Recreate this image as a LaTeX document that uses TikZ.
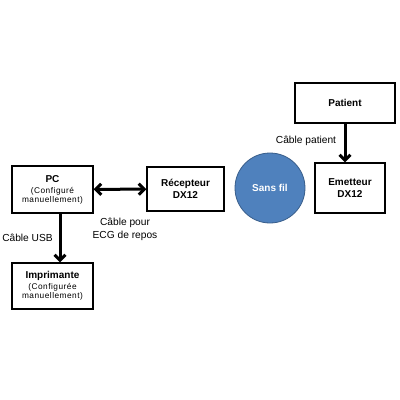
\documentclass[tikz,border=0pt]{standalone}
\usepackage{fontspec}
\setmainfont{Liberation Sans}
\usetikzlibrary{arrows.meta}
\newcommand{\subtxt}[1]{{\mdseries\fontsize{8.3}{11}\selectfont\addfontfeatures{LetterSpace=6}#1}}

\begin{document}
\begin{tikzpicture}[x=1pt,y=-1pt,
  box/.style={draw,line width=1.2pt,align=center,font=\bfseries\fontsize{10}{12}\selectfont},
  lbl/.style={align=center,font=\fontsize{10.2}{13}\selectfont},
  tip/.tip={Straight Barb[length=5.5pt,width=11pt]},
  link/.style={line width=3pt,-tip}]
\useasboundingbox (0,0) rectangle (400,400);
\node[box,minimum width=81pt,minimum height=47pt] (pc) at (52.5,189.5)
  {PC\\[-1pt]\subtxt{(Configuré}\\[-3pt]\subtxt{manuellement)}};
\node[box,minimum width=77pt,minimum height=44pt] (rec) at (185.5,189) {Récepteur\\DX12};
\node[box,minimum width=81pt,minimum height=46pt] (imp) at (52.5,286)
  {Imprimante\\[-1pt]\subtxt{(Configurée}\\[-3pt]\subtxt{manuellement)}};
\node[box,minimum width=100pt,minimum height=40pt] (pat) at (345,103) {Patient};
\node[box,minimum width=70pt,minimum height=50pt] (emet) at (350,188) {Emetteur\\DX12};
\node[circle,line width=0.8pt,minimum size=70pt,text=white,
  font=\bfseries\fontsize{10}{12}\selectfont,
  fill={rgb,255:red,79;green,129;blue,189},draw={rgb,255:red,56;green,93;blue,138}] (sf) at (270,188) {Sans fil};
\draw[link] ([xshift=7.5pt]pc.south) -- ([xshift=7.5pt]imp.north);
\draw[link,tip-tip] (pc) -- (rec);
\draw[link] (pat.south) -- (pat.south |- emet.north);
\node[lbl] (usb) at (27.5,238) {Câble USB};
\node[lbl] (ecg) at (125,229) {Câble pour\\ECG de repos};
\node[lbl] (cpat) at (306,141) {Câble patient};
\end{tikzpicture}
\end{document}
